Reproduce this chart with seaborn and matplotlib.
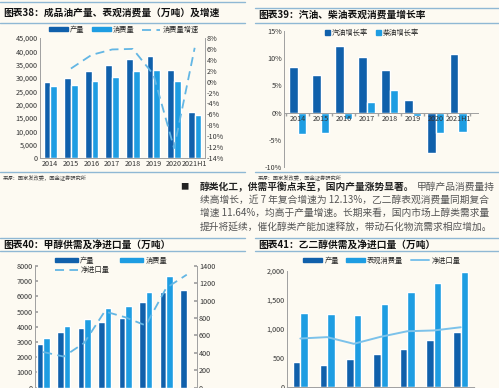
import numpy as np
import pandas as pd
import matplotlib
matplotlib.use("Agg")
import matplotlib.pyplot as plt
import seaborn as sns
from matplotlib.patches import Patch
from matplotlib.lines import Line2D
from matplotlib.ticker import FuncFormatter, FixedLocator

# ---- data ----
years38 = ['2014', '2015', '2016', '2017', '2018', '2019', '2020', '2021H1']
output38 = [28500, 30000, 32500, 34800, 37000, 38300, 33000, 17300]
consume38 = [27000, 27500, 29000, 30500, 32500, 33000, 29000, 16200]
growth38 = [np.nan, 2.4, 4.9, 5.9, 6.0, 1.3, -12.2, 6.2]

years39 = ['2014', '2015', '2016', '2017', '2018', '2019', '2020', '2021H1']
gasoline39 = [8.3, 7.0, 12.3, 10.2, 7.8, 2.3, -7.5, 10.7]
diesel39 = [-3.9, -3.7, -1.1, 2.0, 4.1, -0.6, -3.7, -3.5]

# x labels of the two lower charts fall below the page edge
years40 = ['2013', '2014', '2015', '2016', '2017', '2018', '2019', '2020']
output40 = [2850, 3670, 3930, 4330, 4590, 5600, 6260, 6400]
consume40 = [3250, 4060, 4520, 5210, 5340, 6310, 7320, np.nan]
netimp40 = [410, 357, 515, 877, 810, 715, 1147, 1300]

years41 = ['2014', '2015', '2016', '2017', '2018', '2019', '2020']
output41 = [432, 387, 490, 575, 660, 802, 944]
consume41 = [1268, 1258, 1246, 1439, 1639, 1797, 1985]
netimp41 = [836, 860, 745, 865, 961, 975, 1030]

sns.set_theme(style="white")
plt.rcParams['font.family'] = ['Noto Sans CJK SC', 'DejaVu Sans']
plt.rcParams['axes.unicode_minus'] = False

BG = '#fdfaf2'
DARK = '#1060ab'
LIGHT = '#1e9de2'
LINE = '#63b6e4'
LINE41 = '#7cc2ea'
RULE = '#8fb8d4'
SPINE = '#a0a0a0'
TXT = '#333333'

W, H = 499, 388
fig = plt.figure(figsize=(4.99, 3.88), dpi=100, facecolor=BG)


def box(l, t, r, b):
    # pixel box -> figure fraction
    return [l / W, 1 - b / H, (r - l) / W, (b - t) / H]


def px(x, y):
    return x / W, 1 - y / H


def long_df(cats, a, b, na, nb):
    return pd.DataFrame({
        'cat': list(cats) * 2,
        'val': list(a) + list(b),
        'series': [na] * len(cats) + [nb] * len(cats),
    })


def style_ax(ax, sides=('left', 'bottom')):
    ax.set_facecolor('none')
    for s in ['left', 'right', 'top', 'bottom']:
        ax.spines[s].set_visible(s in sides)
        ax.spines[s].set_color(SPINE)
        ax.spines[s].set_linewidth(0.7)
    ax.tick_params(labelsize=5.2, colors=TXT, pad=1.5, length=0)
    ax.set_xlabel('')
    ax.set_ylabel('')


def hline(x0, x1, y):
    fig.add_artist(Line2D([x0 / W, x1 / W], [1 - y / H, 1 - y / H],
                          color=RULE, lw=1.0))


def title(x, y, s):
    fig.text(*px(x, y), s, fontsize=7, fontweight='bold', color='#111111',
             va='center', ha='left')


def source(x, y):
    fig.text(*px(x, y), '来源：国家发改委，国金证券研究所', fontsize=3.8,
             color='#444444', va='center', ha='left')


# ---- frames, titles, sources ----
hline(0, 245, 2)
hline(0, 245, 23)
hline(255, 499, 8)
hline(255, 499, 23)
title(3, 13, '图表38：成品油产量、表观消费量（万吨）及增速')
title(258, 15, '图表39：汽油、柴油表观消费量增长率')
hline(0, 245, 172)
hline(255, 499, 172)
source(3, 178)
source(258, 178)
hline(0, 245, 238)
hline(0, 245, 251)
hline(255, 499, 238)
hline(255, 499, 251)
title(3, 244.5, '图表40：甲醇供需及净进口量（万吨）')
title(258, 244.5, '图表41：乙二醇供需及净进口量（万吨）')

# ---- chart 38 ----
ax = fig.add_axes(box(40, 38, 205, 158))
df = long_df(years38, output38, consume38, '产量', '消费量')
sns.barplot(data=df, x='cat', y='val', hue='series', palette=[DARK, LIGHT],
            width=0.66, saturation=1, errorbar=None, legend=False, ax=ax)
style_ax(ax, ('left', 'bottom', 'right'))
ax.set_ylim(0, 45000)
ax.set_yticks(range(0, 45001, 5000))
ax.yaxis.set_major_formatter(FuncFormatter(lambda v, p: f'{v:,.0f}'))
ax.set_xlim(-0.5, 7.5)
ax2 = ax.twinx()
sns.lineplot(x=np.arange(len(years38)), y=growth38, color=LINE, lw=1.3,
             linestyle=(0, (5, 3)), ax=ax2)
style_ax(ax2, ())
ax2.set_ylim(-14, 8)
ax2.set_yticks(range(-14, 9, 2))
ax2.yaxis.set_major_formatter(FuncFormatter(lambda v, p: f'{v:.0f}%'))
ax.legend(handles=[Patch(color=DARK, label='产量'), Patch(color=LIGHT, label='消费量'),
                   Line2D([], [], color=LINE, lw=1.3, linestyle=(0, (5, 3)), label='消费量增速')],
          loc='center', bbox_to_anchor=px(124, 30), bbox_transform=fig.transFigure,
          ncol=3, frameon=False, fontsize=5.2, handlelength=2.6, handleheight=0.5,
          columnspacing=1.0, handletextpad=0.3, borderpad=0)

# ---- chart 39 ----
ax = fig.add_axes(box(284, 31, 478, 167))
df = long_df(years39, gasoline39, diesel39, '汽油增长率', '柴油增长率')
sns.barplot(data=df, x='cat', y='val', hue='series', palette=[DARK, LIGHT],
            width=0.74, saturation=1, errorbar=None, legend=False, ax=ax)
style_ax(ax, ('left', 'bottom'))
ax.set_axisbelow(False)  # year labels sit on top of the bars
ax.set_ylim(-10, 15)
ax.set_yticks(range(-10, 16, 5))
ax.yaxis.set_major_formatter(FuncFormatter(lambda v, p: f'{v:.0f}%'))
ax.set_xlim(-0.6, 7.85)
ax.spines['bottom'].set_position(('data', 0))
ax.xaxis.set_minor_locator(FixedLocator(np.arange(-0.5, 8, 1)))
ax.tick_params(axis='x', which='minor', length=2, color=SPINE, bottom=True)
ax.tick_params(axis='x', pad=2)
ax.legend(handles=[Patch(color=DARK, label='汽油增长率'), Patch(color=LIGHT, label='柴油增长率')],
          loc='center', bbox_to_anchor=px(372, 33), bbox_transform=fig.transFigure,
          ncol=2, frameon=False, fontsize=5.2, handlelength=0.7, handleheight=0.7,
          columnspacing=1.2, handletextpad=0.2, borderpad=0)

# ---- body text ----
fig.text(*px(180, 187), '■', fontsize=6, color='#222222', va='center', ha='left')
t1 = fig.text(*px(200, 187), '醇类化工，供需平衡点未至，国内产量涨势显著。', fontsize=7,
              fontweight='bold', color='#222222', va='center', ha='left')
fig.canvas.draw()
bb = t1.get_window_extent()
fig.text(bb.x1 / W + 2 / W, 1 - 187 / H, '甲醇产品消费量持', fontsize=7,
         color='#555555', va='center', ha='left')
body = ['续高增长，近 7 年复合增速为 12.13%，乙二醇表观消费量同期复合',
        '增速 11.64%，均高于产量增速。长期来看，国内市场上醇类需求量',
        '提升将延续，催化醇类产能加速释放，带动石化物流需求相应增加。']
for i, line in enumerate(body):
    fig.text(*px(200, 200 + 13.3 * i), line, fontsize=7, color='#555555',
             va='center', ha='left')

# ---- chart 40 ----
ax = fig.add_axes(box(35, 266, 197, 387.6))
df = long_df(years40, output40, consume40, '产量', '消费量')
sns.barplot(data=df, x='cat', y='val', hue='series', palette=[DARK, LIGHT],
            width=0.62, saturation=1, errorbar=None, legend=False, ax=ax)
style_ax(ax, ('left', 'right', 'bottom'))
ax.set_ylim(0, 8000)
ax.set_yticks(range(0, 8001, 1000))
ax.tick_params(axis='y', direction='in', length=2, color=SPINE)
ax.tick_params(axis='x', labelbottom=False)
ax.set_xlim(-0.4, 7.5)
ax2 = ax.twinx()
sns.lineplot(x=np.arange(len(years40)), y=netimp40, color=LINE, lw=1.3,
             linestyle=(0, (5, 3)), ax=ax2)
style_ax(ax2, ())
ax2.set_ylim(0, 1400)
ax2.set_yticks(range(0, 1401, 200))
ax2.tick_params(axis='y', direction='in', length=2, color=SPINE)
ax2.tick_params(axis='x', labelbottom=False)
ax.legend(handles=[Patch(color=DARK, label='产量'),
                   Line2D([], [], color=LINE, lw=1.3, linestyle=(0, (5, 3)), label='净进口量'),
                   Patch(color=LIGHT, label='消费量')],
          loc='center', bbox_to_anchor=px(111, 265.5), bbox_transform=fig.transFigure,
          ncol=2, frameon=False, fontsize=5.2, handlelength=3.2, handleheight=0.5,
          columnspacing=1.5, handletextpad=0.3, labelspacing=0.2, borderpad=0)

# ---- chart 41 ----
ax = fig.add_axes(box(287, 271, 474, 387))
df = long_df(years41, output41, consume41, '产量', '表观消费量')
sns.barplot(data=df, x='cat', y='val', hue='series', palette=[DARK, LIGHT],
            width=0.56, saturation=1, errorbar=None, legend=False, ax=ax)
style_ax(ax, ('left', 'bottom'))
ax.set_ylim(0, 2000)
ax.set_yticks(range(0, 2001, 500))
ax.yaxis.set_major_formatter(FuncFormatter(lambda v, p: f'{v:,.0f}'))
ax.set_xlim(-0.5, 6.5)
ax.xaxis.set_minor_locator(FixedLocator(np.arange(-0.5, 7, 1)))
ax.tick_params(axis='x', which='minor', length=2, color=SPINE, bottom=True)
ax.tick_params(axis='x', labelbottom=False)
sns.lineplot(x=np.arange(len(years41)), y=netimp41, color=LINE41, lw=1.4, ax=ax)
ax.set_xlabel('')
ax.legend(handles=[Patch(color=DARK, label='产量'), Patch(color=LIGHT, label='表观消费量'),
                   Line2D([], [], color=LINE41, lw=1.4, label='净进口量')],
          loc='center', bbox_to_anchor=px(382, 260.5), bbox_transform=fig.transFigure,
          ncol=3, frameon=False, fontsize=5.2, handlelength=2.6, handleheight=0.5,
          columnspacing=1.0, handletextpad=0.3, borderpad=0)

fig.savefig('out.png', dpi=100, facecolor=BG)
